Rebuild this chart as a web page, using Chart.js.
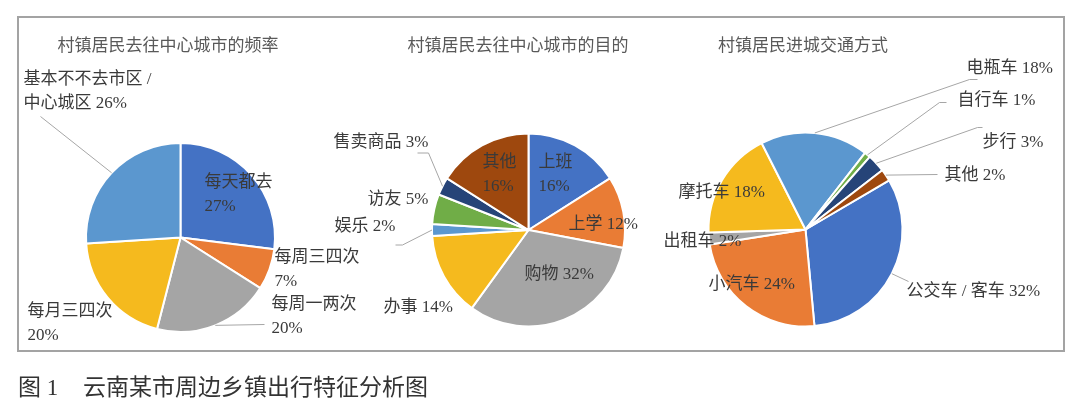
<!DOCTYPE html>
<html>
<head>
<meta charset="utf-8">
<script src="https://cdn.jsdelivr.net/npm/chart.js@4.4.1/dist/chart.umd.min.js"></script>
<style>
  html, body { margin: 0; padding: 0; background: #fff; }
  #page { position: relative; width: 1080px; height: 399px; overflow: hidden; }
  #frame { position: absolute; left: 17px; top: 16px; width: 1044px; height: 332px; border: 2px solid #a3a3a3; }
  canvas { position: absolute; left: 0; top: 0; }
  .title { position: absolute; top: 31px; font: 17px "Liberation Serif", "Noto Sans CJK SC", serif; color: #595959; white-space: nowrap; transform: translateX(-50%); }
  .caption { position: absolute; top: 368px; font: 23px "Liberation Serif", "Noto Sans CJK SC", serif; color: #333; white-space: nowrap; }
</style>
</head>
<body>
<div id="page">
  <div id="frame"></div>
  <canvas id="freqChart" width="1080" height="399"></canvas>
  <canvas id="purposeChart" width="1080" height="399"></canvas>
  <canvas id="modeChart" width="1080" height="399"></canvas>
  <div class="title" style="left:168px">村镇居民去往中心城市的频率</div>
  <div class="title" style="left:518px">村镇居民去往中心城市的目的</div>
  <div class="title" style="left:803px">村镇居民进城交通方式</div>
  <div class="caption" style="left:18px">图 1</div>
  <div class="caption" style="left:83px">云南某市周边乡镇出行特征分析图</div>
</div>
<script>
// data
const freqLabels = ['每天都去', '每周三四次', '每周一两次', '每月三四次', '基本不不去市区 / 中心城区'];
const freqValues = [27, 7, 20, 20, 26];

const purposeLabels = ['上班', '上学', '购物', '办事', '娱乐', '访友', '售卖商品', '其他'];
const purposeValues = [16, 12, 32, 14, 2, 5, 3, 16];

const modeLabels = ['公交车 / 客车', '小汽车', '出租车', '摩托车', '电瓶车', '自行车', '步行', '其他'];
const modeValues = [32, 24, 2, 18, 18, 1, 3, 2];

const palette = ['#4472C4', '#E97C35', '#A5A5A5', '#F5BA1E', '#5B97CF', '#70AD47', '#264478', '#9E480E'];

// label placement relative to the pie centre (px); split = chars on first line
const freqLayout = [
    { dx: 24, dy: -55, split: 4 },
    { dx: 94, dy: 20, split: 5 },
    { dx: 91, dy: 67, split: 5, leader: [[84, 87]] },
    { dx: -153, dy: 74, split: 5 },
    { dx: -157, dy: -158, split: 9, leader: [[-140, -121]] }
];
const purposeLayout = [
    { dx: 10, dy: -67, split: 2 },
    { dx: 40, dy: -5 },
    { dx: -4, dy: 45 },
    { dx: -145, dy: 78 },
    { dx: -194, dy: -3, leader: [[-126, 15], [-133, 15]] },
    { dx: -161, dy: -30 },
    { dx: -195, dy: -87, leader: [[-100, -77], [-111, -77]] },
    { dx: -46, dy: -67, split: 2 }
];
const modeLayout = [
    { dx: 101, dy: 62, leader: [[103, 52]] },
    { dx: -97, dy: 55 },
    { dx: -142, dy: 12 },
    { dx: -127, dy: -37 },
    { dx: 161, dy: -161, leader: [[164, -150], [172, -150]] },
    { dx: 152, dy: -129, leader: [[134, -127], [141, -127]] },
    { dx: 177, dy: -87, leader: [[172, -102], [177, -102]] },
    { dx: 139, dy: -54, leader: [[132, -55]] }
];

const labelFont = '17px "Liberation Serif", "Noto Sans CJK SC", serif';

const sliceLabels = {
    id: 'sliceLabels',
    afterDatasetsDraw(chart, args, opts) {
        const ctx = chart.ctx;
        const arcs = chart.getDatasetMeta(0).data;
        const values = chart.data.datasets[0].data;
        ctx.save();
        arcs.forEach((arc, i) => {
            const lay = opts.layout[i];
            const cx = arc.x, cy = arc.y;
            if (lay.leader) {
                const mid = (arc.startAngle + arc.endAngle) / 2;
                ctx.beginPath();
                ctx.moveTo(cx + Math.cos(mid) * arc.outerRadius, cy + Math.sin(mid) * arc.outerRadius);
                lay.leader.forEach(p => ctx.lineTo(cx + p[0], cy + p[1]));
                ctx.strokeStyle = '#a6a6a6';
                ctx.lineWidth = 1;
                ctx.stroke();
            }
            const text = chart.data.labels[i] + ' ' + values[i] + '%';
            const lines = lay.split ? [text.slice(0, lay.split).trim(), text.slice(lay.split).trim()] : [text];
            ctx.font = labelFont;
            ctx.fillStyle = '#3a3a3a';
            ctx.textAlign = 'left';
            ctx.textBaseline = 'middle';
            lines.forEach((ln, k) => ctx.fillText(ln, cx + lay.dx, cy + lay.dy + k * 24));
        });
        ctx.restore();
    }
};

function makePie(id, labels, values, layout, cx, cy, r, rotation) {
    const half = r + 1; // borderWidth eats 1px of radius
    new Chart(document.getElementById(id), {
        type: 'pie',
        data: {
            labels: labels,
            datasets: [{
                data: values,
                backgroundColor: palette.slice(0, values.length),
                borderColor: '#ffffff',
                borderWidth: 2
            }]
        },
        options: {
            responsive: false,
            animation: false,
            rotation: rotation,
            events: [],
            layout: { padding: { left: cx - half, right: 1080 - cx - half, top: cy - half, bottom: 399 - cy - half } },
            plugins: {
                legend: { display: false },
                tooltip: { enabled: false },
                sliceLabels: { layout: layout }
            }
        },
        plugins: [sliceLabels]
    });
}

makePie('freqChart', freqLabels, freqValues, freqLayout, 180.5, 237.5, 94.5, 0);
makePie('purposeChart', purposeLabels, purposeValues, purposeLayout, 528.5, 230, 96.5, 0);
makePie('modeChart', modeLabels, modeValues, modeLayout, 805.5, 229.5, 97, 59.5);
</script>
</body>
</html>
